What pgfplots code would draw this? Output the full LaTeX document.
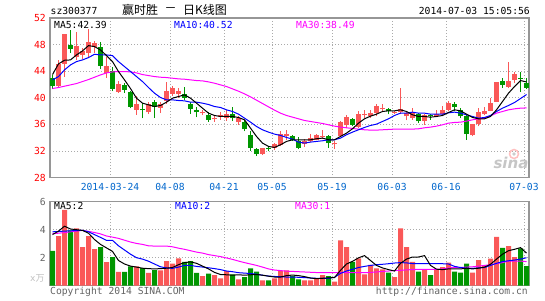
\documentclass[border=0pt]{standalone}
\usepackage{fontspec}
\setmainfont{DejaVu Sans Mono}
\setmonofont{DejaVu Sans Mono}
\newfontfamily\cjk{Noto Sans CJK SC}
\newfontfamily\sinafont{DejaVu Sans}
\usepackage{pgfplots}
\usepackage{pgfplotstable}
\pgfplotsset{compat=1.18}
\definecolor{upred}{RGB}{250,88,88}
\definecolor{dngreen}{RGB}{0,150,0}
\definecolor{dateblue}{RGB}{0,102,204}
\definecolor{gridgray}{RGB}{170,170,170}
\definecolor{bordergray}{RGB}{150,150,150}
\definecolor{tickred}{RGB}{255,0,0}
\definecolor{mablue}{RGB}{0,0,255}
\definecolor{mamag}{RGB}{255,0,255}
\definecolor{txtgray}{RGB}{100,100,100}
\newcommand\mf{\fontsize{9.7bp}{10bp}\selectfont}

% j O H L C V
\pgfplotstableread{
j O H L C V
1 41.85 45.7 41.5 45.05 3.55
2 45.05 49.6 43.2 49.55 5.41
4 46.1 49.9 45.7 47.75 4.1
5 46.45 47.5 45.9 47.05 2.76
6 46.75 50.4 46.2 48.4 3.55
7 47.6 48.6 46.8 48.3 2.62
9 43.7 46.2 43.0 44.75 1.69
11 40.95 42.5 40.8 42.05 0.98
14 38.2 40.25 37.45 39.05 1.38
16 37.8 39.35 37.55 39.05 0.91
18 38.5 39.4 37.7 39.1 1.1
19 39.6 42.45 39.1 41.05 1.76
20 40.6 41.85 40.25 41.45 1.57
21 40.55 41.45 40.0 41.0 1.95
25 37.65 38.1 37.4 37.8 0.69
27 36.75 37.35 36.4 36.9 0.76
28 37.1 37.8 36.7 37.4 0.53
29 36.9 38.2 36.55 37.6 1.05
31 36.35 37.3 35.95 36.9 0.45
35 31.6 32.45 31.4 32.4 0.38
37 32.4 33.15 32.1 33.05 0.53
38 32.85 35.0 32.7 34.6 1.05
39 34.2 35.1 33.7 34.55 1.1
42 33.1 33.8 32.6 33.5 0.38
43 33.55 34.6 33.3 33.95 0.38
44 33.7 34.5 33.6 34.4 0.53
45 34.05 35.1 33.85 34.2 0.76
47 33.0 33.45 32.35 33.15 0.29
48 34.25 36.45 34.1 36.35 3.24
49 35.85 37.4 35.45 37.1 2.76
51 35.6 38.0 35.45 37.6 1.95
52 37.35 38.1 36.9 37.55 0.81
53 37.25 38.1 37.0 37.75 1.48
54 37.7 39.1 37.2 38.8 1.24
55 38.25 39.05 37.95 38.45 1.17
57 37.75 38.05 37.55 37.9 0.62
58 37.85 41.55 37.55 38.3 4.1
59 37.2 37.9 36.6 37.65 2.76
60 37.0 38.4 36.7 37.7 1.71
62 36.45 37.55 35.95 37.35 1.17
64 37.2 38.2 37.05 37.55 1.17
65 37.55 38.7 37.2 38.2 1.33
66 38.2 39.55 37.95 39.2 1.64
70 34.35 36.1 34.2 36.05 0.93
71 36.05 38.45 35.7 37.85 1.83
72 37.55 38.55 37.35 38.05 1.4
73 38.05 40.05 37.95 39.2 1.93
74 39.45 42.45 39.35 42.35 3.48
76 41.7 45.45 41.45 42.55 2.83
77 42.7 43.95 42.2 43.55 2.05
}\upT

\pgfplotstableread{
j O H L C V
0 43.05 43.4 41.3 41.85 2.48
3 47.9 50.2 46.75 47.35 3.95
8 47.6 48.4 44.4 44.85 2.76
10 44.1 44.6 41.0 41.35 2.05
12 41.9 42.2 40.8 41.2 0.98
13 40.85 41.1 38.4 38.65 1.38
15 38.3 39.3 36.9 38.15 1.26
17 39.35 39.7 36.95 38.6 1.12
22 40.55 41.6 39.7 40.0 1.71
23 39.05 39.35 37.6 38.35 1.76
24 38.2 38.55 37.05 37.8 0.91
26 37.45 37.8 36.4 36.7 0.86
30 37.6 38.6 36.5 36.9 0.81
32 36.3 36.6 34.95 35.25 0.62
33 34.4 34.95 32.05 32.45 1.24
34 32.35 32.4 31.25 31.6 1.0
36 32.4 32.7 31.95 32.25 0.38
40 34.25 34.4 33.5 33.65 0.69
41 33.55 34.05 32.25 32.45 0.45
46 34.2 34.35 32.5 33.15 0.69
50 36.85 36.95 35.7 35.95 1.71
56 38.35 38.5 37.5 37.95 0.93
61 37.55 37.7 36.2 36.45 1.0
63 37.45 37.55 36.7 37.3 0.76
67 39.05 39.35 37.95 38.55 1.0
68 38.2 38.45 36.95 37.2 0.93
69 37.2 37.45 33.7 34.55 1.57
75 42.55 43.05 41.55 41.95 2.71
78 43.05 43.95 40.95 42.85 2.67
79 42.2 42.95 41.35 41.55 1.4
}\dnT

% moving averages
\pgfplotstableread{
j m5 m10 m30 v5 v10 v30
0 43.5 42.7 41.4 3.65 3.85 3.72
1 45.1 43.2 41.55 3.9 3.87 3.75
2 45.65 44.2 41.75 4.25 3.9 3.79
3 45.7 44.95 41.95 4.05 3.92 3.85
4 46.45 45.45 42.15 4.0 3.94 3.9
5 47.05 45.7 42.45 3.95 3.95 3.95
6 47.85 46.05 42.75 3.75 3.85 3.88
7 47.7 46.55 43.1 3.3 3.65 3.8
8 47.2 46.45 43.45 2.95 3.45 3.7
9 46.35 46.45 43.75 2.7 3.24 3.55
10 45.45 46.35 43.9 2.45 3.24 3.47
11 43.95 45.45 43.95 1.8 2.85 3.38
12 42.7 44.7 43.95 1.55 2.55 3.25
13 41.4 43.95 43.9 1.4 2.25 3.12
14 39.95 43.2 43.75 1.33 2.0 3.02
15 39.2 42.45 43.5 1.25 1.9 2.95
16 38.95 41.55 43.35 1.22 1.75 2.85
17 38.7 40.7 43.2 1.2 1.55 2.83
18 38.85 40.05 43.1 1.22 1.35 2.83
19 39.35 39.7 43.05 1.25 1.27 2.83
20 39.95 39.7 42.95 1.3 1.24 2.78
21 40.2 39.6 42.85 1.5 1.33 2.68
22 40.45 39.55 42.8 1.65 1.45 2.6
23 39.95 39.35 42.7 1.7 1.45 2.5
24 39.2 39.35 42.6 1.6 1.38 2.4
25 38.45 39.2 42.55 1.4 1.33 2.33
26 37.7 39.0 42.4 1.2 1.28 2.22
27 37.35 38.7 42.2 0.95 1.22 2.15
28 37.2 38.55 41.95 0.8 1.15 2.08
29 37.2 38.2 41.7 0.78 1.05 1.98
30 37.2 37.95 41.35 0.75 1.0 1.88
31 37.05 37.55 41.0 0.78 0.93 1.76
32 36.7 36.95 40.6 0.75 0.9 1.65
33 35.45 36.35 40.15 0.78 0.87 1.55
34 34.2 35.7 39.65 0.8 0.82 1.45
35 33.2 35.2 39.15 0.75 0.75 1.33
36 32.7 34.85 38.65 0.68 0.69 1.2
37 32.55 34.55 38.15 0.62 0.66 1.12
38 32.95 34.35 37.7 0.62 0.64 1.08
39 33.45 34.05 37.35 0.72 0.62 1.04
40 33.7 33.8 37.1 0.76 0.62 1.02
41 33.7 33.35 36.85 0.72 0.6 1.0
42 33.7 33.2 36.6 0.65 0.58 0.98
43 33.7 33.35 36.45 0.55 0.55 0.96
44 33.85 33.45 36.3 0.5 0.53 0.94
45 33.95 33.55 36.15 0.53 0.53 0.93
46 33.7 33.7 35.95 0.56 0.53 0.93
47 33.7 33.7 35.75 0.58 0.6 0.93
48 34.2 33.95 35.6 1.1 0.88 0.93
49 34.7 34.45 35.5 1.55 1.05 0.93
50 35.35 34.85 35.4 1.74 1.17 0.93
51 36.2 35.2 35.3 1.99 1.3 0.93
52 36.85 35.55 35.2 2.15 1.38 0.93
53 37.25 35.85 35.15 1.8 1.45 0.95
54 37.55 36.05 35.15 1.45 1.5 0.98
55 37.95 36.45 35.2 1.27 1.53 1.02
56 38.05 36.85 35.25 1.15 1.57 1.05
57 38.05 37.35 35.3 1.05 1.62 1.08
58 38.2 37.7 35.3 1.6 1.65 1.1
59 37.95 37.7 35.3 1.9 1.63 1.13
60 37.45 37.85 35.3 2.05 1.58 1.15
61 37.2 37.7 35.35 2.05 1.57 1.17
62 37.2 37.7 35.5 2.15 1.57 1.17
63 37.1 37.55 35.6 1.45 1.57 1.17
64 37.2 37.55 35.75 1.18 1.57 1.17
65 37.35 37.55 35.95 1.15 1.57 1.2
66 37.8 37.75 36.2 1.2 1.55 1.27
67 38.2 37.85 36.3 1.2 1.38 1.3
68 38.05 37.7 36.35 1.2 1.3 1.3
69 37.55 37.45 36.5 1.25 1.25 1.33
70 37.05 37.2 36.7 1.2 1.24 1.35
71 36.85 36.95 36.85 1.25 1.27 1.4
72 36.85 37.05 36.95 1.33 1.3 1.45
73 37.2 37.35 37.3 1.53 1.45 1.5
74 38.2 37.95 37.7 1.9 1.6 1.57
75 39.45 38.45 37.95 2.25 1.72 1.65
76 40.7 38.85 38.2 2.5 1.78 1.76
77 41.7 39.3 38.35 2.6 1.83 1.76
78 42.6 39.9 38.45 2.72 1.9 1.76
79 42.39 40.5 38.49 2.33 2.0 1.72
}\maT

\pgfplotsset{
  kpanel/.style={
    scale only axis, anchor=south west, width=479bp,
    xmin=-0.417, xmax=79.417,
    axis line style={draw=bordergray, line width=1.2bp},
    xtick={9.583,19.583,28.583,36.583,46.583,56.583,65.583,78.583},
    major tick length=0pt,
    xmajorgrids, ymajorgrids,
    major grid style={draw=gridgray, line width=0.8bp, dash pattern=on 1bp off 2bp},
    yticklabel style={font=\mf, anchor=east, inner sep=0pt, xshift=-4bp},
  },
  wick/.style={draw=none, mark=none, forget plot,
    error bars/.cd, y dir=plus, y explicit, error mark=none,
    error bar style={line width=1bp, draw=#1, solid}},
  body/.style={draw=none, mark=none, forget plot,
    error bars/.cd, y dir=plus, y explicit, error mark=none,
    error bar style={line width=5bp, draw=#1, solid}},
}

\begin{document}
\begin{tikzpicture}[x=1bp,y=1bp]
\useasboundingbox (0,0) rectangle (545,300);

% price panel
\begin{axis}[kpanel, at={(50bp,122.3bp)}, height=159.7bp,
  ymin=28, ymax=52,
  xticklabels={2014-03-24,04-08,04-21,05-05,05-19,06-03,06-16,07-03},
  ytick={28,32,36,40,44,48,52},
  yticklabels={28,32,36,40,44,48,52},
  xticklabel style={font=\mf, text=dateblue, anchor=center, yshift=-9.3bp, inner sep=0pt},
  yticklabel style={text=tickred},
]
\addplot[wick=upred] table[x=j, y=L, y error plus expr=\thisrow{H}-\thisrow{L}] {\upT};
\addplot[wick=dngreen] table[x=j, y=L, y error plus expr=\thisrow{H}-\thisrow{L}] {\dnT};
\addplot[body=upred] table[x=j, y=O, y error plus expr=\thisrow{C}-\thisrow{O}] {\upT};
\addplot[body=dngreen] table[x=j, y=C, y error plus expr=\thisrow{O}-\thisrow{C}] {\dnT};
\addplot[mamag, line width=1bp, mark=none] table[x=j, y=m30] {\maT};
\addplot[mablue, line width=1bp, mark=none] table[x=j, y=m10] {\maT};
\addplot[black, line width=1bp, mark=none] table[x=j, y=m5] {\maT};
\end{axis}

% volume panel
\begin{axis}[kpanel, at={(50bp,14.3bp)}, height=84bp,
  ymin=0, ymax=6,
  xticklabels={},
  ytick={2,4,6}, yticklabels={2,4,6},
  yticklabel style={text=txtgray},
]
\addplot[ybar, bar width=5bp, bar shift=0pt, fill=upred, draw=none] table[x=j, y=V] {\upT};
\addplot[ybar, bar width=5bp, bar shift=0pt, fill=dngreen, draw=none] table[x=j, y=V] {\dnT};
\addplot[mamag, line width=1bp, mark=none] table[x=j, y=v30] {\maT};
\addplot[mablue, line width=1bp, mark=none] table[x=j, y=v10] {\maT};
\addplot[black, line width=1bp, mark=none] table[x=j, y=v5] {\maT};
\end{axis}

% header
\node[anchor=west, inner sep=0pt, font=\mf] at (50.5,289) {sz300377};
\node[anchor=west, inner sep=0pt, font=\cjk\fontsize{12bp}{12bp}\selectfont] at (122,290) {赢时胜};
\node[anchor=center, inner sep=0pt, font=\cjk\fontsize{12bp}{12bp}\selectfont] at (170.5,290) {－};
\node[anchor=west, inner sep=0pt, font=\cjk\fontsize{12bp}{12bp}\selectfont] at (183,290) {日K线图};
\node[anchor=east, inner sep=0pt, font=\mf] at (530,289) {2014-07-03 15:05:56};

% legends
\node[anchor=west, inner sep=0pt, font=\mf, text=black] at (54,275) {MA5:42.39};
\node[anchor=west, inner sep=0pt, font=\mf, text=mablue] at (174,275) {MA10:40.52};
\node[anchor=west, inner sep=0pt, font=\mf, text=mamag] at (296,275) {MA30:38.49};
\node[anchor=west, inner sep=0pt, font=\mf, text=black] at (54,94) {MA5:2};
\node[anchor=west, inner sep=0pt, font=\mf, text=mablue] at (175,94) {MA10:2};
\node[anchor=west, inner sep=0pt, font=\mf, text=mamag] at (295,94) {MA30:1};

% watermark
\draw[red!25, line width=1.5bp] (514,146) circle (4.5);
\fill[gray!40] (514,146) circle (1.8);
\node[anchor=center, inner sep=0pt, text=gray!45, font=\sinafont\bfseries\itshape\fontsize{15bp}{15bp}\selectfont] at (511,137) {sina};

% footer
\node[anchor=west, inner sep=0pt, text=gray!50, font={\fontsize{9bp}{9bp}\selectfont}] at (30,22) {x\cjk 万};
\node[anchor=west, inner sep=0pt, font=\mf, text=txtgray] at (50,8) {Copyright 2014 SINA.COM};
\node[anchor=east, inner sep=0pt, font=\mf, text=txtgray] at (528,8) {http://finance.sina.com.cn};
\end{tikzpicture}
\end{document}
